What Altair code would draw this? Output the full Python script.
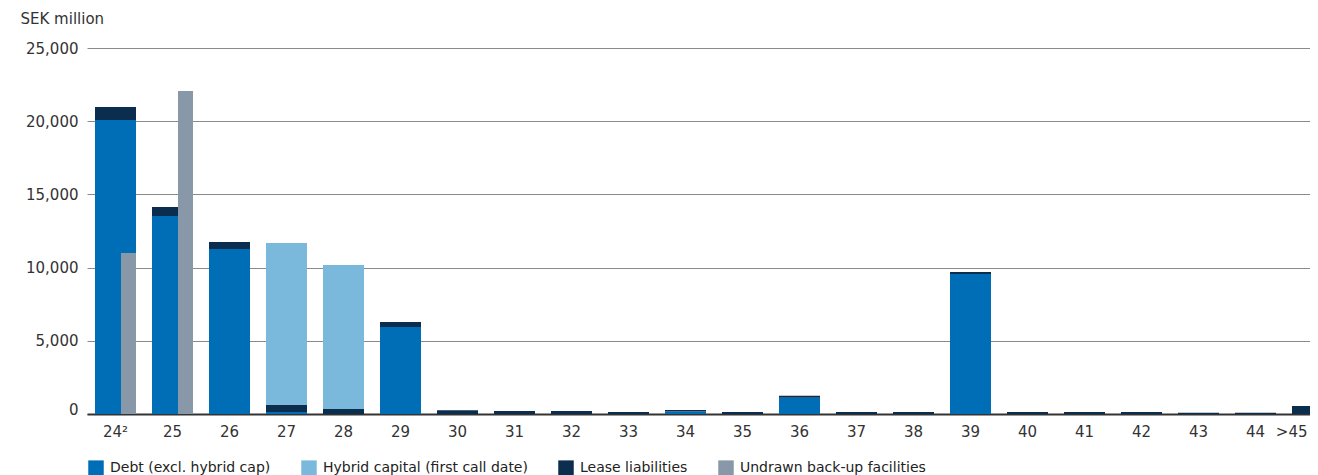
import altair as alt
import pandas as pd

categories = ["24²", "25", "26", "27", "28", "29", "30", "31", "32", "33", "34",
              "35", "36", "37", "38", "39", "40", "41", "42", "43", "44", ">45"]
debt = [20080, 13520, 11270, 140, 0, 5940, 0, 0, 0, 0, 170,
        0, 1110, 0, 0, 9560, 0, 0, 0, 0, 0, 0]
hybrid = [0, 0, 0, 11070, 9840, 0, 0, 0, 0, 0, 0,
          0, 0, 0, 0, 0, 0, 0, 0, 0, 0, 0]
lease = [890, 620, 480, 470, 340, 340, 260, 200, 200, 140, 100,
         140, 140, 140, 140, 140, 140, 140, 140, 90, 90, 550]
undrawn = [11000, 22060, 0, 0, 0, 0, 0, 0, 0, 0, 0,
           0, 0, 0, 0, 0, 0, 0, 0, 0, 0, 0]

series_names = ["Debt (excl. hybrid cap)", "Hybrid capital (first call date)",
                "Lease liabilities", "Undrawn back-up facilities"]
series_colors = ["#006eb6", "#7bb9dc", "#0b2d4e", "#8898a8"]
stack_rank = {series_names[0]: 0, series_names[2]: 1, series_names[1]: 2}

rows = []
for i, c in enumerate(categories):
    for name, vals in zip(series_names, [debt, hybrid, lease, undrawn]):
        if vals[i] > 0:
            rows.append({"category": c, "series": name, "value": vals[i],
                         "rank": stack_rank.get(name, 3)})
df = pd.DataFrame(rows)

color = alt.Color("series:N",
                  scale=alt.Scale(domain=series_names, range=series_colors),
                  legend=alt.Legend(title=None, orient="none", legendX=1, legendY=412,
                                    direction="horizontal", symbolType="square",
                                    symbolSize=240, symbolStrokeWidth=0,
                                    labelFontSize=14, labelColor="#222",
                                    labelOffset=6, columnPadding=30, labelLimit=400,
                                    padding=0))

x_enc = alt.X("category:N", sort=categories,
              scale=alt.Scale(paddingInner=0, paddingOuter=0, range=[0, 1254]),
              axis=alt.Axis(title=None, labelAngle=0, ticks=False, domainColor="#333",
                            domainWidth=2, labelPadding=10, labelFontSize=15,
                            labelColor="#333", grid=False,
                            labelAlign={"condition": {"test": "datum.value == '>45'",
                                                      "value": "right"},
                                        "value": "center"},
                            labelOffset={"condition": {"test": "datum.value == '>45'",
                                                       "value": -5},
                                         "value": 0}))
y_axis = alt.Axis(title="SEK million", titleAngle=0, titleX=-67, titleY=-30,
                  titleAlign="left", titleBaseline="middle",
                  titleFontSize=15, titleFontWeight="normal", titleColor="#333",
                  values=[0, 5000, 10000, 15000, 20000, 25000], format=",.0f",
                  domain=False, ticks=False, labelPadding=9, labelFontSize=15,
                  labelColor="#333", gridColor="#8a8a8a", gridWidth=1,
                  labelBaseline={"condition": {"test": "datum.value == 0",
                                               "value": "alphabetic"},
                                 "value": "middle"})
y_scale = alt.Scale(domain=[0, 25000], nice=False)

stacked = alt.Chart(df).transform_filter(
    alt.datum.series != series_names[3]
).mark_bar(width={"band": 41 / 57}).encode(
    x=x_enc,
    y=alt.Y("value:Q", stack="zero", scale=y_scale, axis=y_axis),
    color=color,
    order=alt.Order("rank:Q", sort="ascending")
)

undrawn_layer = alt.Chart(df).transform_filter(
    alt.datum.series == series_names[3]
).mark_bar(width=15, xOffset=13).encode(
    x=x_enc,
    y=alt.Y("value:Q", stack=None, scale=y_scale, axis=y_axis),
    color=color
)

chart = alt.layer(stacked, undrawn_layer).properties(
    width=1223, height=366,
    autosize=alt.AutoSizeParams(type="none"),
    padding={"left": 79, "top": 40, "right": 0, "bottom": 61}
).configure(font="DejaVu Sans").configure_view(stroke=None, strokeWidth=0)

chart.save("out.html", embed_options={"renderer": "svg", "actions": False})
